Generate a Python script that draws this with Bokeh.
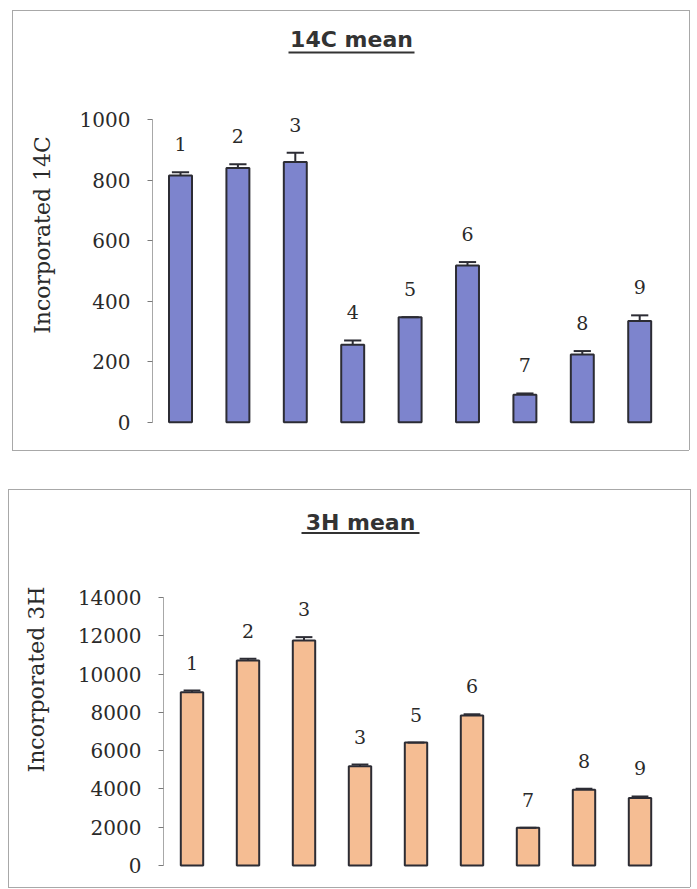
from bokeh.plotting import figure
from bokeh.models import Range1d, FixedTicker, ColumnDataSource
from bokeh.embed import file_html
from bokeh.resources import INLINE
from bokeh.core.properties import value

# ---------------- data ----------------
categories = ["1", "2", "3", "4", "5", "6", "7", "8", "9"]

c14_mean = [815, 840, 860, 256, 347, 518, 91, 224, 334]
c14_err = [11, 12, 30, 14, 0, 11, 4, 11, 19]
c14_labels = ["1", "2", "3", "4", "5", "6", "7", "8", "9"]
c14_ticks = [0, 200, 400, 600, 800, 1000]

h3_mean = [9050, 10710, 11755, 5190, 6420, 7840, 1970, 3955, 3520]
h3_err = [90, 90, 175, 85, 0, 60, 0, 55, 85]
h3_labels = ["1", "2", "3", "3", "5", "6", "7", "8", "9"]
h3_ticks = [0, 2000, 4000, 6000, 8000, 10000, 12000, 14000]

W = 697
BOX_COLOR = "#a8a8a8"


def box_styles(x0, y0, x1, y1):
    g = f"linear-gradient({BOX_COLOR},{BOX_COLOR})"
    w, h = x1 - x0, y1 - y0
    return {
        "background-image": ",".join([g] * 4),
        "background-repeat": "no-repeat",
        "background-size": f"{w}px 1px,{w}px 1px,1px {h}px,1px {h}px",
        "background-position": f"{x0}px {y0}px,{x0}px {y1}px,{x0}px {y0}px,{x1}px {y0}px",
    }


def make_chart(title, ylabel, means, errs, labels, ticks, fill, H,
               first_px, step_px, zero_px, top_px, axis_px, box,
               title_cx, title_mid, ul, ul_y, label_std):
    ymax = ticks[-1]

    def xd(px):
        return 1 + (px - first_px) / step_px

    def yd(py):
        return (zero_px - py) / (zero_px - top_px) * ymax

    p = figure(width=W, height=H, x_range=Range1d(xd(axis_px), xd(W)),
               y_range=Range1d(yd(H), yd(0)), output_backend="svg",
               toolbar_location=None, tools="", x_axis_location=None,
               min_border_left=int(round(axis_px)), min_border_right=0,
               min_border_top=0, min_border_bottom=0)
    p.outline_line_color = None
    p.background_fill_color = None
    p.border_fill_color = None
    p.grid.visible = False
    p.styles = box_styles(*box)

    ax = p.yaxis[0]
    ax.ticker = FixedTicker(ticks=ticks)
    ax.bounds = (0, ymax)
    ax.axis_line_color = "#a8a8a8"
    ax.axis_line_width = 1
    ax.major_tick_line_color = "#7a7a7a"
    ax.major_tick_in = 0
    ax.major_tick_out = 5
    ax.minor_tick_out = 0
    ax.minor_tick_in = 0
    ax.major_label_standoff = 17
    ax.major_label_text_font = "DejaVu Serif"
    ax.major_label_text_font_size = "20px"
    ax.major_label_text_color = "#2a2a2a"
    ax.axis_label = ylabel
    ax.axis_label_text_font = "DejaVu Serif"
    ax.axis_label_text_font_style = "normal"
    ax.axis_label_text_font_size = "22px"
    ax.axis_label_text_color = "#2a2a2a"
    ax.axis_label_standoff = label_std

    xs = list(range(1, len(categories) + 1))
    tops = [m + e for m, e in zip(means, errs)]
    src = ColumnDataSource(dict(
        x=xs, m=means, top=tops, lab=labels,
        cl=[x - 0.15 for x in xs], cr=[x + 0.15 for x in xs]))

    p.vbar(x="x", top="m", bottom=0, width=0.40, source=src,
           fill_color=fill, line_color="#2c2c34", line_width=2)
    p.segment(x0="x", y0="m", x1="x", y1="top", source=src,
              line_color="#2c2c34", line_width=2)
    p.segment(x0="cl", y0="top", x1="cr", y1="top", source=src,
              line_color="#2c2c34", line_width=2)
    p.text(x="x", y="top", text="lab", source=src, y_offset=-28,
           text_align="center", text_baseline="middle",
           text_font=value("DejaVu Serif"), text_font_size="19px",
           text_color="#2a2a2a")

    # title with underline
    p.text(x=[xd(title_cx)], y=[yd(title_mid)], text=[title],
           text_align="center", text_baseline="middle",
           text_font=value("DejaVu Sans"), text_font_style="bold",
           text_font_size="22px", text_color="#333333")
    p.segment(x0=[xd(ul[0])], y0=[yd(ul_y)], x1=[xd(ul[1])], y1=[yd(ul_y)],
              line_color="#333333", line_width=2)
    return p


p1 = make_chart("14C mean", "Incorporated 14C", c14_mean, c14_err, c14_labels,
                c14_ticks, "#7d84cd", 469,
                180, 57.4, 421.7, 119, 152, (12, 10, 689, 450),
                351, 39.2, (288, 414), 52, 22)

p2 = make_chart("3H mean", "Incorporated 3H", h3_mean, h3_err, h3_labels,
                h3_ticks, "#f5bd93", 420,
                191.5, 56.0, 396, 128, 163, (8, 20, 690, 418),
                360, 52.5, (301, 419), 63.5, 26)

open("out.html", "w").write(file_html([p1, p2], INLINE))
